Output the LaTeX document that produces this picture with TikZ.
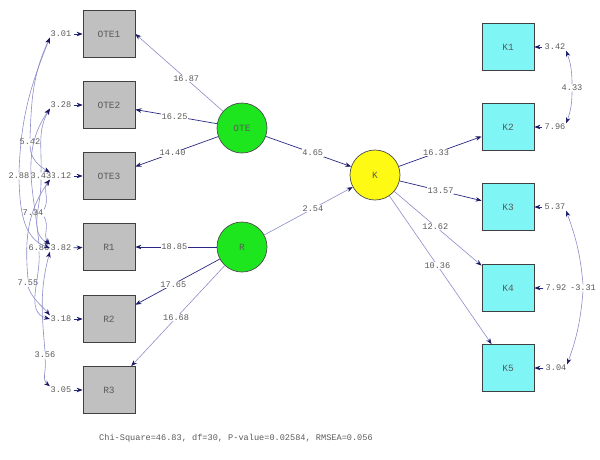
\documentclass[tikz,border=0pt]{standalone}
\usepackage{fontspec}
\setmonofont{Liberation Mono}
\usetikzlibrary{arrows.meta}
\definecolor{navy}{RGB}{40,40,130}
\definecolor{lav}{RGB}{140,140,200}
\definecolor{tip}{RGB}{25,25,100}
\definecolor{boxgray}{RGB}{192,192,192}
\definecolor{boxcyan}{RGB}{128,245,245}
\definecolor{latgreen}{RGB}{30,230,30}
\definecolor{latyellow}{RGB}{255,250,20}
\definecolor{txt}{RGB}{90,90,90}
\begin{document}
\begin{tikzpicture}[x=1pt,y=-1pt,
  obs/.style={draw=black!75, line width=0.8pt, minimum width=52pt, minimum height=47pt, inner sep=0pt,
    font=\ttfamily\fontsize{9.5}{9.5}\selectfont, text=txt},
  gbox/.style={obs, fill=boxgray},
  cbox/.style={obs, fill=boxcyan},
  lat/.style={circle, draw=black!70, line width=0.7pt, minimum size=50pt, inner sep=0pt,
    font=\ttfamily\fontsize{9.5}{9.5}\selectfont, text=txt},
  num/.style={font=\ttfamily\fontsize{8.6}{8.6}\selectfont, text=txt, fill=white, inner sep=0.6pt},
  errlab/.style={font=\ttfamily\fontsize{8.6}{8.6}\selectfont, text=txt, inner sep=0.6pt},
  pth/.style={draw=navy, line width=0.7pt, -{Stealth[length=6pt,width=4.5pt,color=tip]}},
  lpth/.style={draw=lav, line width=0.6pt, -{Stealth[length=6pt,width=4.5pt,color=tip]}},
  errarr/.style={draw=navy, line width=0.7pt, shorten <=1.5pt, -{Stealth[length=6pt,width=4.5pt,color=tip]}},
  cov/.style={draw=lav, line width=0.6pt, -{Stealth[length=6pt,width=4.5pt,color=tip]}}
]
\useasboundingbox (0,0) rectangle (600,459);

% observed left
\node[gbox] (OTE1) at (109,34) {OTE1};
\node[gbox] (OTE2) at (109,105) {OTE2};
\node[gbox] (OTE3) at (109,176) {OTE3};
\node[gbox] (R1) at (109,247) {R1};
\node[gbox] (R2) at (109,319) {R2};
\node[gbox] (R3) at (109,390) {R3};

% observed right
\node[cbox] (K1) at (508,47) {K1};
\node[cbox] (K2) at (508,127) {K2};
\node[cbox] (K3) at (508,207) {K3};
\node[cbox] (K4) at (508,288) {K4};
\node[cbox] (K5) at (508,368) {K5};

% latents
\node[lat, fill=latgreen] (OTE) at (242,128) {OTE};
\node[lat, fill=latgreen] (R) at (242,247) {R};
\node[lat, fill=latyellow] (K) at (375,175) {K};

% loadings
\draw[lpth] (OTE) -- node[num, pos=0.42]{16.87} (OTE1.east);
\draw[pth] (OTE) -- node[num, pos=0.52]{16.25} (OTE2);
\draw[pth] (OTE) -- node[num, pos=0.55]{14.40} (OTE3);
\draw[pth] (R) -- node[num, pos=0.52]{18.85} (R1);
\draw[pth] (R) -- node[num, pos=0.55]{17.65} (R2);
\draw[lpth] (R) -- node[num, pos=0.52]{16.68} (R3);
\draw[pth] (OTE) -- node[num, pos=0.55]{4.65} (K);
\draw[lpth] (R) -- node[num, pos=0.55]{2.54} (K);
\draw[pth] (K) -- node[num, pos=0.45]{16.33} (K2);
\draw[pth] (K) -- node[num, pos=0.5]{13.57} (K3);
\draw[lpth] (K) -- node[num, pos=0.47]{12.62} (K4);
\draw[lpth] (K) -- node[num, pos=0.47]{10.36} (K5);

% left errors
\node[errlab] (e1) at (61,34) {3.01};
\node[errlab] (e2) at (61,105) {3.28};
\node[errlab] (e3) at (61,176) {3.12};
\node[errlab] (e4) at (61,248) {3.82};
\node[errlab] (e5) at (61,319) {3.18};
\node[errlab] (e6) at (61,390) {3.05};
\draw[errarr] (e1) -- (OTE1);
\draw[errarr] (e2) -- (OTE2);
\draw[errarr] (e3) -- (OTE3);
\draw[errarr] (e4) -- (R1);
\draw[errarr] (e5) -- (R2);
\draw[errarr] (e6) -- (R3);

% right errors
\node[errlab] (f1) at (555,47) {3.42};
\node[errlab] (f2) at (555,127) {7.96};
\node[errlab] (f3) at (555,207) {5.37};
\node[errlab] (f4) at (556,288) {7.92};
\node[errlab] (f5) at (556,368) {3.04};
\draw[errarr] (f1) -- (K1);
\draw[errarr] (f2) -- (K2);
\draw[errarr] (f3) -- (K3);
\draw[errarr] (f4) -- (K4);
\draw[errarr] (f5) -- (K5);

% left covariances
\node[num] (c1) at (30,142) {5.42};
\node[num] (c2) at (19,176) {2.88};
\node[num] (c3) at (41,176) {3.43};
\node[num] (c4) at (33,213) {7.34};
\node[num] (c5) at (39,248) {6.86};
\node[num] (c6) at (28,283) {7.55};
\node[num] (c7) at (45,355) {3.56};

\draw[cov] (c1.north) to[out=88,in=-115] (e1.south west);
\draw[cov] (c1.south) to[out=-88,in=150] (e3.north west);
\draw[cov] (c2.north) to[out=88,in=-112] (e1.south west);
\draw[cov] (c2.south) to[out=-88,in=160] (e4.west);
\draw[cov] (c3.north) to[out=88,in=-120] (e2.south west);
\draw[cov] (c3.south) to[out=-88,in=150] (e4.north west);
\draw[cov] (c4.north east) to[out=60,in=-130] (e3.south west);
\draw[cov] (c4.south east) to[out=-60,in=130] (e4.north west);
\draw[cov] (c5.north) to[out=95,in=-125] (e2.south west);
\draw[cov] (c5.south) to[out=-85,in=165] (e5.west);
\draw[cov] (c6.north) to[out=95,in=-125] (e3.south west);
\draw[cov] (c6.south) to[out=-70,in=130] (e5.north west);
\draw[cov] (c7.north) to[out=95,in=-105] (e4.south west);
\draw[cov] (c7.south) to[out=-80,in=140] (e6.north west);

% right covariances
\node[num] (c8) at (572,88) {4.33};
\node[num] (c9) at (583,288) {-3.31};
\draw[cov] (c8.north) to[out=90,in=-70] (f1.south east);
\draw[cov] (c8.south) to[out=-90,in=70] (f2.north east);
\draw[cov] (c9.north) to[out=95,in=-70] (f3.south east);
\draw[cov] (c9.south) to[out=-95,in=70] (f5.north east);

% fit statistics
\node[errlab] (fit) at (236,438) {Chi-Square=46.83, df=30, P-value=0.02584, RMSEA=0.056};
\end{tikzpicture}
\end{document}
